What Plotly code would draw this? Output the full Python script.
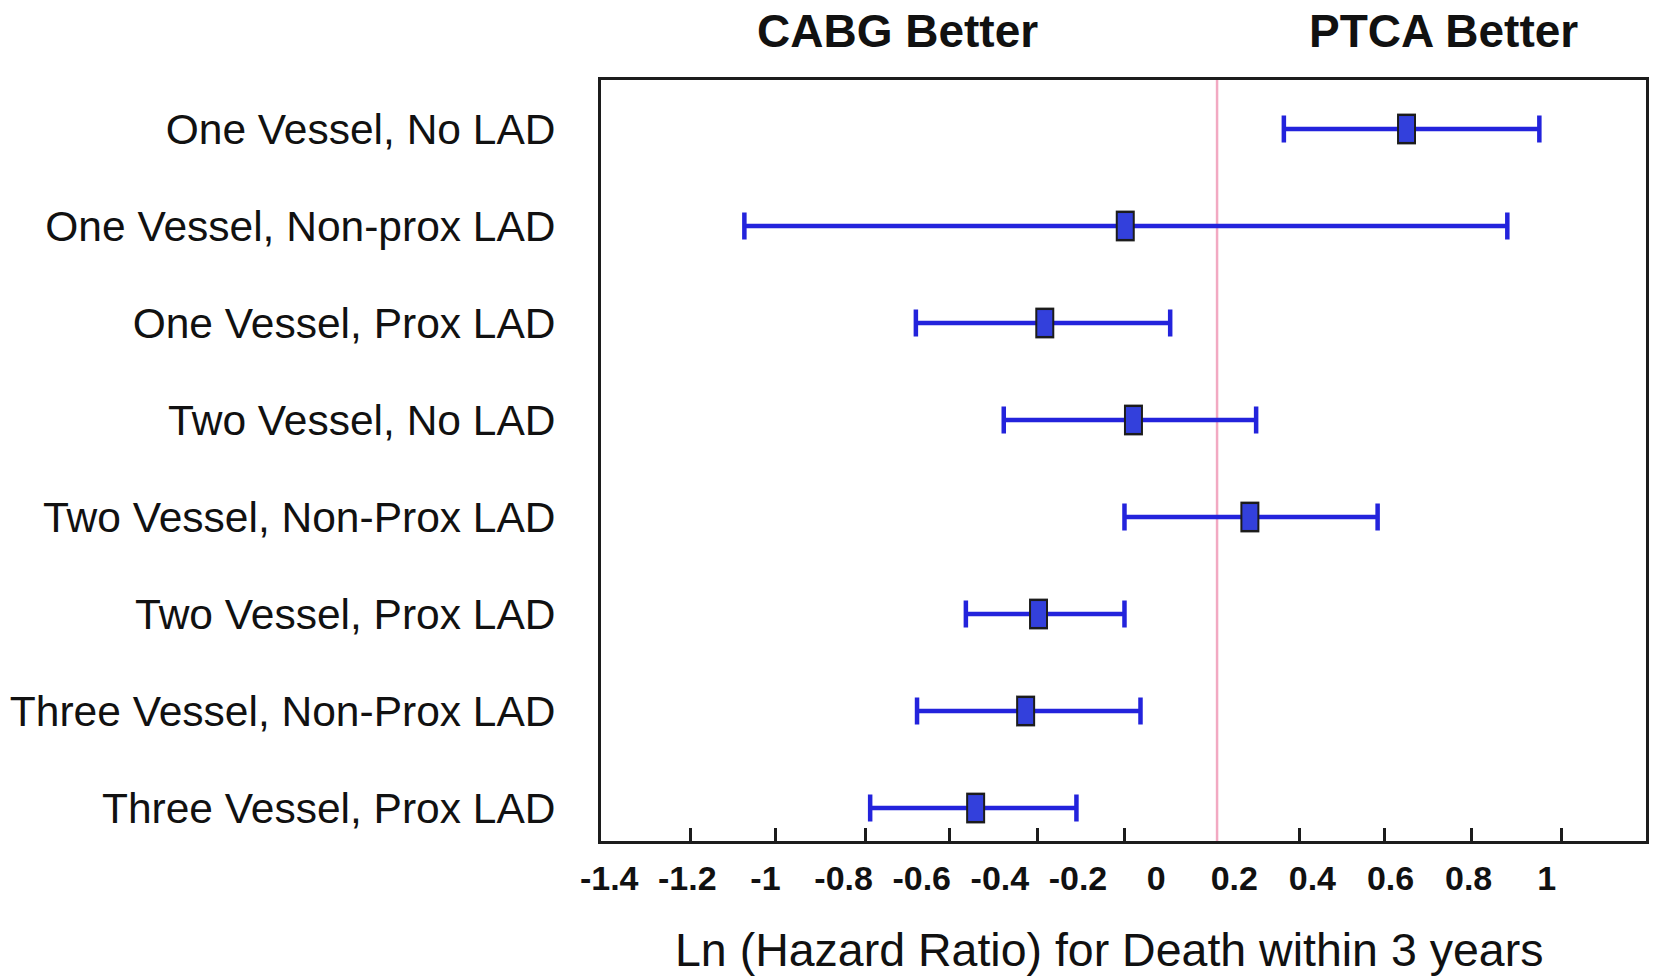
import plotly.graph_objects as go

# ---------------- data ----------------
categories = [
    "One Vessel, No LAD",
    "One Vessel, Non-prox LAD",
    "One Vessel, Prox LAD",
    "Two Vessel, No LAD",
    "Two Vessel, Non-Prox LAD",
    "Two Vessel, Prox LAD",
    "Three Vessel, Non-Prox LAD",
    "Three Vessel, Prox LAD",
]
estimate = [0.641, -0.079, -0.285, -0.058, 0.240, -0.301, -0.334, -0.462]
lower = [0.327, -1.054, -0.615, -0.390, -0.081, -0.487, -0.612, -0.732]
upper = [0.981, 0.899, 0.036, 0.256, 0.567, -0.081, -0.040, -0.204]

tick_values = [-1.4, -1.2, -1.0, -0.8, -0.6, -0.4, -0.2, 0, 0.2, 0.4, 0.6, 0.8, 1.0]
tick_labels = ["-1.4", "-1.2", "-1", "-0.8", "-0.6", "-0.4", "-0.2", "0",
               "0.2", "0.4", "0.6", "0.8", "1"]
tick_marks = [-1.192, -0.975, -0.743, -0.530, -0.303, -0.081, 0.368, 0.585, 0.807, 1.037]
reference_line = 0.156

# ---------------- styles ----------------
FONT = "Liberation Sans, Arial, Helvetica, sans-serif"
BLUE = "#2323dc"
BOX_BLUE = "#3340dc"
DARK = "#1c1c1c"

err_plus = [u - e for u, e in zip(upper, estimate)]
err_minus = [e - l for e, l in zip(estimate, lower)]

fig = go.Figure()

# error bars + black outline of the box
fig.add_trace(go.Scatter(
    x=estimate, y=categories, mode="markers",
    marker=dict(symbol="line-ns", size=22, color=DARK,
                line=dict(width=19, color=DARK)),
    error_x=dict(type="data", symmetric=False, array=err_plus,
                 arrayminus=err_minus, color=BLUE, thickness=4.5, width=13.5),
    hoverinfo="skip", showlegend=False,
))
# blue box fill
fig.add_trace(go.Scatter(
    x=estimate, y=categories, mode="markers",
    marker=dict(symbol="line-ns", size=18.5, color=BOX_BLUE,
                line=dict(width=15, color=BOX_BLUE)),
    showlegend=False,
))

fig.add_shape(type="line", xref="x", yref="paper",
              x0=reference_line, x1=reference_line, y0=0, y1=1,
              line=dict(color="#f2a9c2", width=2.5), layer="below")

fig.update_layout(
    width=1655, height=977,
    margin=dict(l=601, r=6, t=80, b=136),
    paper_bgcolor="white", plot_bgcolor="white",
    font=dict(family=FONT, color="#111"),
    showlegend=False,
    xaxis=dict(
        range=[-1.421, 1.254],
        tickmode="array", tickvals=tick_values, ticktext=tick_labels,
        ticks="", ticklabelstandoff=5,
        tickfont=dict(family=FONT, size=34, color="#111", weight="bold"),
        showgrid=False, zeroline=False,
        showline=True, linecolor=DARK, linewidth=3, mirror=True,
        minor=dict(tickmode="array", tickvals=tick_marks, ticks="inside",
                   ticklen=13, tickwidth=3, tickcolor=DARK, showgrid=False),
    ),
    yaxis=dict(
        type="category", categoryorder="array", categoryarray=categories,
        range=[7.34, -0.505],
        ticks="", ticklabelstandoff=34,
        tickfont=dict(family=FONT, size=42.5, color="#111"),
        showgrid=False, zeroline=False,
        showline=True, linecolor=DARK, linewidth=3, mirror=True,
    ),
    annotations=[
        dict(text="<b>CABG Better</b>", xref="paper", yref="paper",
             x=0.284, y=1.064, xanchor="center", yanchor="middle",
             showarrow=False, font=dict(family=FONT, size=46, color="#111")),
        dict(text="<b>PTCA Better</b>", xref="paper", yref="paper",
             x=0.806, y=1.064, xanchor="center", yanchor="middle",
             showarrow=False, font=dict(family=FONT, size=46, color="#111")),
        dict(text="Ln (Hazard Ratio) for Death within 3 years", xref="paper", yref="paper",
             x=0.486, y=-0.143, xanchor="center", yanchor="middle",
             showarrow=False, font=dict(family=FONT, size=46.5, color="#111")),
    ],
)

fig.write_html("out.html")
